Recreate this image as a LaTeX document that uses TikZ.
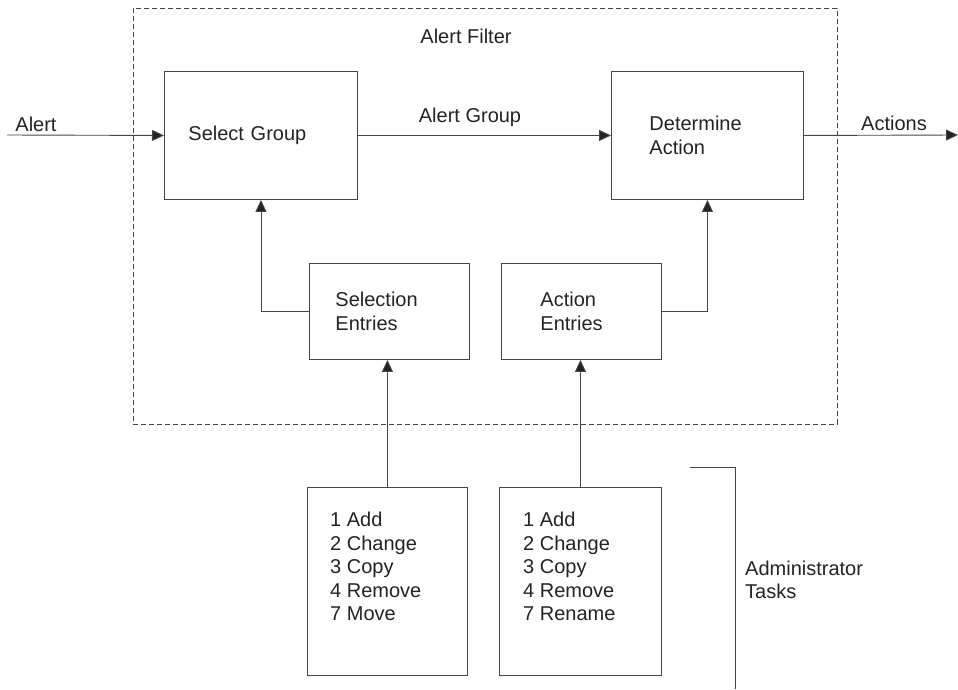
\documentclass[tikz,border=0pt]{standalone}
\usepackage{fontspec}
\setmainfont{Liberation Sans}
\usepackage{tikz}
\usetikzlibrary{arrows.meta,calc,positioning}
\definecolor{lineink}{RGB}{70,70,70}
\definecolor{textink}{RGB}{35,35,35}

\begin{document}
\begin{tikzpicture}[x=1pt,y=-1pt,
  every node/.style={font=\fontsize{20}{23.5}\selectfont,text=textink},
  box/.style={draw=lineink,line width=0.9pt,rectangle,align=left,anchor=north west,
    inner ysep=0pt},
  lbl/.style={inner sep=0pt},
  arr/.style={-{Triangle[length=12pt,width=11pt,fill=textink]},draw=lineink,line width=0.9pt},
  ln/.style={draw=lineink,line width=0.9pt}
]
\useasboundingbox (0,0) rectangle (958,689);

% dashed filter region
\node[draw=lineink,line width=0.9pt,dash pattern=on 5pt off 3pt,anchor=north west,
  minimum width=704pt,minimum height=416pt,inner sep=0pt] (filter) at (133,8) {};
\node[lbl] (filtername) at (466,36) {Alert Filter};

% main boxes
\node[box,minimum width=193pt,minimum height=128pt,text width=145pt,inner xsep=24pt]
  (sel) at (164,71) {Select Group};
\node[box,minimum width=192pt,minimum height=128pt,text width=116pt,inner xsep=38pt]
  (det) at (611,71) {Determine\\Action};

% entry boxes
\node[box,minimum width=160pt,minimum height=96pt,text width=108pt,inner xsep=26pt]
  (selent) at (309,263) {Selection\\Entries};
\node[box,minimum width=160pt,minimum height=96pt,text width=82pt,inner xsep=39pt]
  (actent) at (501,263) {Action\\Entries};

% task boxes
\node[box,minimum width=160pt,minimum height=188pt] (selops) at (307,487) {};
\node[lbl,anchor=north west,align=left] (selopslist) at (330,512)
  {1 Add\\2 Change\\3 Copy\\4 Remove\\7 Move};
\node[box,minimum width=162pt,minimum height=188pt] (actops) at (499,487) {};
\node[lbl,anchor=north west,align=left] (actopslist) at (523,512)
  {1 Add\\2 Change\\3 Copy\\4 Remove\\7 Rename};

% free ends
\coordinate (alertin) at (7,135);
\coordinate (actout) at (958,135);
\coordinate (brtop) at (690,467);
\coordinate (brcorner) at (735,467);
\coordinate (brbot) at (735,689);

\draw[arr] (alertin) -- (sel.west);
\draw[arr] (sel.east) -- (det.west);
\draw[arr] (det.east) -- (actout);
\draw[arr] (selent.west) -| (sel.south);
\draw[arr] (actent.east) -| (det.south);
\draw[arr] (selops.north) -- (selops.north |- selent.south);
\draw[arr] (actops.north) -- (actops.north |- actent.south);

\node[lbl] (alertname) at (36,124) {Alert};
\node[lbl] (groupname) at (470,117) {Alert Group};
\node[lbl] (actname) at (894,123) {Actions};

% administrator bracket
\draw[ln] (brtop) -- (brcorner) -- (brbot);
\node[lbl,anchor=west,align=left] (admin) at (745,580) {Administrator\\Tasks};
\end{tikzpicture}
\end{document}
